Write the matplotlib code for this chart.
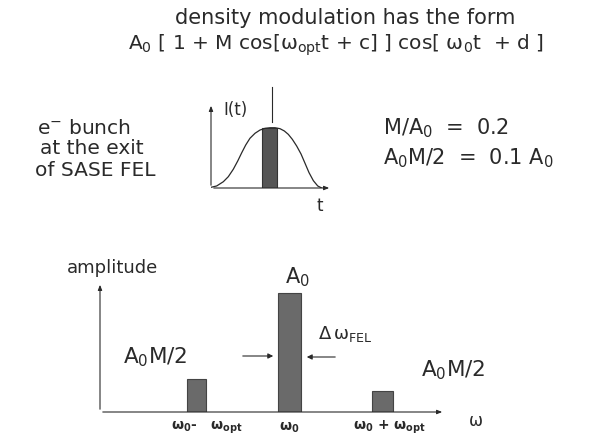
import matplotlib
matplotlib.use("Agg")
import matplotlib.pyplot as plt

plt.rcParams["font.family"] = ["DejaVu Sans"]
plt.rcParams["mathtext.fontset"] = "dejavusans"
plt.rcParams["mathtext.default"] = "regular"

INK = "#2a2a2a"
BAR = "#6a6a6a"

# spectrum: sideband positions (in units of w_opt around w_0) and amplitudes
spec_pos = [-1, 0, 1]
spec_amp = [0.28, 1.0, 0.18]
spec_width = [0.21, 0.25, 0.22]
spec_ticks = [r"$\omega_{0}$-   $\omega_{opt}$", r"$\omega_{0}$", r"$\omega_{0}$ + $\omega_{opt}$"]
tick_shift = [0.11, 0.0, 0.07]

# bunch current profile I(t), sampled by hand
bunch_t = [0.0, 0.047, 0.102, 0.143, 0.184, 0.221, 0.254, 0.287, 0.322, 0.364,
           0.405, 0.446, 0.488, 0.529, 0.570, 0.606, 0.639, 0.672, 0.708, 0.744,
           0.777, 0.810, 0.846, 0.882, 0.915]
bunch_i = [0.008, 0.024, 0.074, 0.133, 0.220, 0.318, 0.415, 0.506, 0.585, 0.644,
           0.682, 0.702, 0.709, 0.709, 0.698, 0.671, 0.631, 0.573, 0.494, 0.400,
           0.291, 0.181, 0.086, 0.024, 0.0]
slice_t = 0.481
slice_w = 0.124
slice_h = 0.70

W, H = 592, 444
fig = plt.figure(figsize=(W / 100, H / 100), dpi=100)
fig.patch.set_facecolor("white")


def px(x, y):
    # pixel position (origin top-left) -> figure fraction
    return x / W, 1 - y / H


def label(x, y, s, size=13, ha="left", **kw):
    fig.text(*px(x, y), s, fontsize=size, ha=ha, va="center", color=INK, **kw)


def arrow(x0, y0, x1, y1):
    fig.add_artist(matplotlib.patches.FancyArrowPatch(
        px(x0, y0), px(x1, y1), transform=fig.transFigure,
        arrowstyle="-|>,head_length=3,head_width=1.5", color=INK, lw=0.8))


def axis_arrows(ax):
    style = dict(arrowstyle="-|>,head_length=0.3,head_width=0.12", color=INK, lw=0.8)
    ax.annotate("", xy=(0, 1.0), xytext=(0, 0), xycoords="axes fraction", arrowprops=style)
    ax.annotate("", xy=(1.0, 0), xytext=(0, 0), xycoords="axes fraction", arrowprops=style)


# header
label(345, 18, "density modulation has the form", size=15, ha="center")
label(336, 45, r"A$_0$ [ 1 + M cos[$\omega_{opt}$t + c] ] cos[ $\omega_{0}$t  + d ]",
      size=14.5, ha="center")

# left description
label(84, 128, r"e$^{-}$ bunch", size=14.5, ha="center")
label(92, 149, "at the exit", size=14.5, ha="center")
label(95, 170, "of SASE FEL", size=14.5, ha="center")

# right numbers
label(383, 128, r"M/A$_0$  =  0.2", size=15)
label(383, 158, r"A$_0$M/2  =  0.1 A$_0$", size=15)

# inset: bunch profile
ax_b = fig.add_axes([211 / W, 1 - 188 / H, 121 / W, 85 / H])
ax_b.set_xlim(0, 1)
ax_b.set_ylim(0, 1)
ax_b.axis("off")
ax_b.bar([slice_t], [slice_h], width=slice_w, color="#555555",
         edgecolor="#333333", lw=0.8)
ax_b.plot(bunch_t, bunch_i, color=INK, lw=0.9)
ax_b.plot([slice_t + 0.026, slice_t + 0.026], [0.78, 1.19], color=INK, lw=0.8,
          clip_on=False)
axis_arrows(ax_b)
label(235, 110, "I(t)", size=12, ha="center")
label(320, 206, "t", size=12, ha="center")

# spectrum
ax_s = fig.add_axes([100 / W, 1 - 412 / H, 345 / W, 130 / H])
ax_s.set_xlim(-2.04, 1.672)
ax_s.set_ylim(0, 1.09)
ax_s.axis("off")
ax_s.bar(spec_pos, spec_amp, width=spec_width, color=BAR,
         edgecolor="#444444", lw=0.8)
axis_arrows(ax_s)
for p, d, s in zip(spec_pos, tick_shift, spec_ticks):
    ax_s.text(p + d, -0.13, s, fontsize=10, ha="center", va="center",
              color=INK, fontweight="bold")

label(112, 268, "amplitude", size=13, ha="center")
label(297, 277, r"A$_0$", size=15, ha="center")
label(155, 357, r"A$_0$M/2", size=15.5, ha="center")
label(453, 370, r"A$_0$M/2", size=15.5, ha="center")
label(345, 334, r"$\Delta\,\omega_{FEL}$", size=13, ha="center")
label(475, 421, r"$\omega$", size=12, ha="center")

arrow(240, 356, 276, 356)
arrow(338, 357, 304, 357)

fig.savefig("out.png", dpi=100, facecolor="white")
